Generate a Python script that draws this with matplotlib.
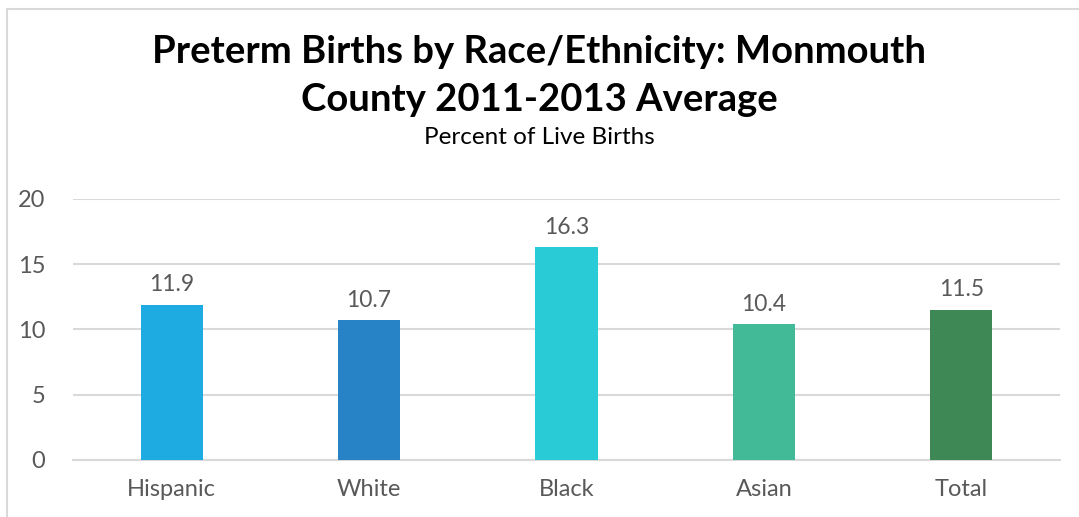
import matplotlib.pyplot as plt
from matplotlib.patches import Rectangle

# Data
categories = ["Hispanic", "White", "Black", "Asian", "Total"]
values = [11.9, 10.7, 16.3, 10.4, 11.5]
bar_colors = ["#1EABE2", "#2782C6", "#29CBD6", "#43BA97", "#3D8854"]
yticks = [0, 5, 10, 15, 20]

plt.rcParams["font.family"] = ["Lato", "DejaVu Sans"]
text_color = "#595959"
grid_color = "#D9D9D9"

fig = plt.figure(figsize=(10.79, 5.17), dpi=100)
ax = fig.add_axes([73 / 1079, 1 - 460 / 517, 987 / 1079, 261 / 517])

# Chart frame
fig.patches.append(Rectangle((7 / 1079, -0.05), 1.2, 1 - 9 / 517 + 0.05,
                             transform=fig.transFigure, fill=False,
                             edgecolor="#D9D9D9", linewidth=1.5))

x = range(len(categories))
bars = ax.bar(x, values, width=0.315, color=bar_colors, zorder=3)

for b, v in zip(bars, values):
    ax.annotate(f"{v:.1f}", (b.get_x() + b.get_width() / 2, v),
                xytext=(0, 7), textcoords="offset points",
                ha="center", va="bottom", fontsize=16.5, color=text_color)

ax.set_xlim(-0.5, len(categories) - 0.5)
ax.set_ylim(0, 20)
ax.set_yticks(yticks)
ax.set_xticks(list(x))
ax.set_xticklabels(categories)
ax.tick_params(axis="both", length=0, labelsize=17, labelcolor=text_color)
ax.tick_params(axis="y", pad=20)
ax.tick_params(axis="x", pad=14)
ax.grid(axis="y", color=grid_color, linewidth=1.5, zorder=0)
for s in ["top", "right", "left"]:
    ax.spines[s].set_visible(False)
ax.spines["bottom"].set_color(grid_color)
ax.spines["bottom"].set_linewidth(1.5)

# Title and subtitle
fig.text(0.5, 1 - 52 / 517, "Preterm Births by Race/Ethnicity: Monmouth",
         ha="center", va="center", fontsize=27.5, fontweight="bold", color="black")
fig.text(0.5, 1 - 100 / 517, "County 2011-2013 Average",
         ha="center", va="center", fontsize=27.5, fontweight="bold", color="black")
fig.text(0.5, 1 - 137 / 517, "Percent of Live Births",
         ha="center", va="center", fontsize=17.5, color="black")

fig.savefig("out.png", dpi=100, facecolor="white")
